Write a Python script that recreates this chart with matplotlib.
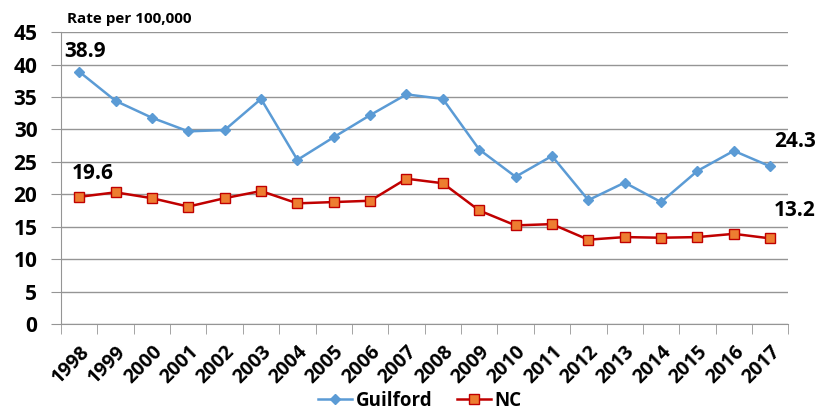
import matplotlib.pyplot as plt
import numpy as np

plt.rcParams['font.family'] = ['Open Sans', 'DejaVu Sans']
plt.rcParams['font.weight'] = 'bold'

years = [str(y) for y in range(1998, 2018)]
guilford = [38.9, 34.4, 31.8, 29.7, 29.9, 34.7, 25.3, 28.8, 32.2, 35.4,
            34.7, 26.9, 22.7, 25.9, 19.1, 21.8, 18.8, 23.6, 26.7, 24.3]
nc = [19.6, 20.3, 19.4, 18.1, 19.4, 20.5, 18.6, 18.8, 19.0, 22.4,
      21.7, 17.5, 15.2, 15.4, 13.0, 13.4, 13.3, 13.4, 13.9, 13.2]

fig = plt.figure(figsize=(8.2, 4.17), dpi=100)
ax = fig.add_axes([0.0744, 0.223, 0.887, 0.70])

x = np.arange(len(years))
ax.plot(x, guilford, color='#5B9BD5', lw=1.8, marker='D', ms=5,
        mfc='#5B9BD5', mec='#5B9BD5', label='Guilford')
ax.plot(x, nc, color='#C00000', lw=1.8, marker='s', ms=7,
        mfc='#ED7D31', mec='#C00000', mew=1, label='NC')

ax.set_xlim(-0.5, len(years) - 0.5)
ax.set_ylim(0, 45)
ax.set_yticks(range(0, 50, 5))
ax.yaxis.grid(True, color='#959595', lw=1)
ax.set_axisbelow(True)
ax.tick_params(axis='y', length=7, color='#959595', labelsize=15, pad=10)
for lab in ax.get_yticklabels():
    lab.set_fontweight('bold')

ax.set_xticks(x)
ax.set_xticklabels(years, rotation=45, ha='right', rotation_mode='anchor',
                   fontsize=14, fontweight='bold')
ax.tick_params(axis='x', length=0, pad=13)
ax.set_xticks(np.arange(-0.5, len(years), 1), minor=True)
ax.tick_params(axis='x', which='minor', length=7, color='#959595')

for s in ['top', 'right']:
    ax.spines[s].set_visible(False)
for s in ['left', 'bottom']:
    ax.spines[s].set_color('#959595')

# value labels
ax.text(x[0] - 0.4, guilford[0] + 2.3, '38.9', fontsize=15, fontweight='bold')
ax.text(x[0] - 0.2, nc[0] + 2.8, '19.6', fontsize=15, fontweight='bold')
ax.text(x[-1] + 0.1, guilford[-1] + 3.0, '24.3', fontsize=15, fontweight='bold')
ax.text(x[-1] + 0.1, nc[-1] + 3.4, '13.2', fontsize=15, fontweight='bold')

fig.text(0.082, 0.945, 'Rate per 100,000', fontsize=11, fontweight='bold')

fig.legend(loc='lower center', bbox_to_anchor=(0.512, -0.025), ncol=2, frameon=False,
           prop={'size': 13.5, 'weight': 'bold'}, handlelength=1.8, columnspacing=1.3,
           handletextpad=0.2)

fig.savefig('out.png', dpi=100)
